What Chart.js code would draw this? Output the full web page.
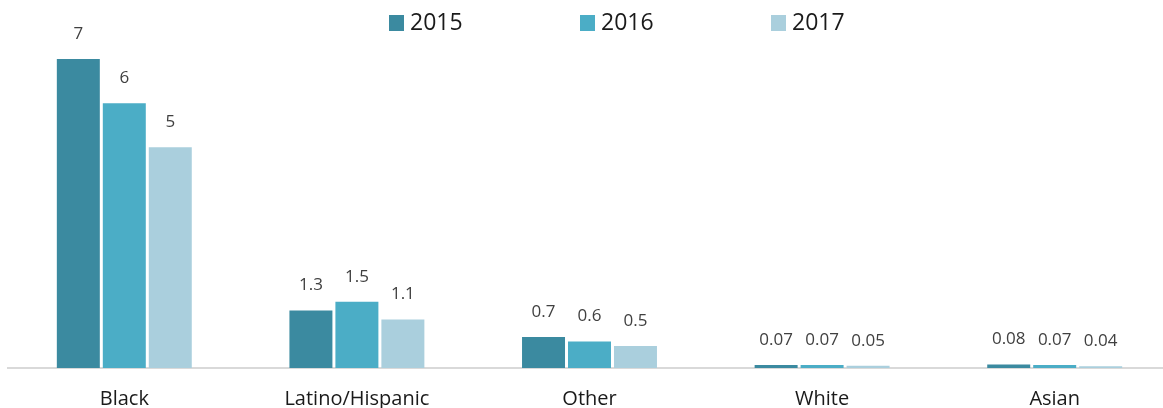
<!DOCTYPE html>
<html>
<head>
<meta charset="utf-8">
<script src="https://cdn.jsdelivr.net/npm/chart.js@4"></script>
<style>
    html, body { margin: 0; padding: 0; background: #fff; overflow: hidden; }
    /* plot runs a few px past the right edge and the axis box leaves spare room below, so the canvas is a bit bigger than the window */
    #wrap { width: 1171px; height: 430px; }
</style>
</head>
<body>
<div id="wrap"><canvas id="chart"></canvas></div>
<script>
const CATEGORIES = ['Black', 'Latino/Hispanic', 'Other', 'White', 'Asian'];
const YEARS = ['2015', '2016', '2017'];
const VALUES_2015 = [7, 1.3, 0.7, 0.07, 0.08];
const VALUES_2016 = [6, 1.5, 0.6, 0.07, 0.07];
const VALUES_2017 = [5, 1.1, 0.5, 0.05, 0.04];

const COLORS = ['#3b8aa0', '#4badc6', '#aacfdd'];
const FONT = '"Open Sans", "DejaVu Sans", sans-serif';

// value labels above every bar
const valueLabels = {
    id: 'valueLabels',
    afterDatasetsDraw(chart) {
        const { ctx } = chart;
        ctx.save();
        ctx.font = '17px ' + FONT;
        ctx.fillStyle = '#404040';
        ctx.textAlign = 'center';
        ctx.textBaseline = 'middle';
        chart.data.datasets.forEach((ds, i) => {
            chart.getDatasetMeta(i).data.forEach((bar, j) => {
                ctx.fillText(String(ds.data[j]), bar.x, bar.y - 25);
            });
        });
        ctx.restore();
    },
};

// legend drawn by hand: the reference sits a bit right of centre with wide gaps
const topLegend = {
    id: 'topLegend',
    afterDraw(chart) {
        const { ctx } = chart;
        const step = 191;
        let x = 389;
        ctx.save();
        ctx.font = '23px ' + FONT;
        ctx.textBaseline = 'middle';
        chart.data.datasets.forEach(ds => {
            ctx.fillStyle = ds.backgroundColor;
            ctx.fillRect(x, 15, 15, 16);
            ctx.fillStyle = '#1a1a1a';
            ctx.fillText(ds.label, x + 21, 23);
            x += step;
        });
        ctx.restore();
    },
};

new Chart(document.getElementById('chart'), {
    type: 'bar',
    data: {
        labels: CATEGORIES,
        datasets: [VALUES_2015, VALUES_2016, VALUES_2017].map((vals, i) => ({
            label: YEARS[i],
            data: vals,
            backgroundColor: COLORS[i],
            categoryPercentage: 0.593,
            barPercentage: 0.935,
        })),
    },
    options: {
        responsive: true,
        maintainAspectRatio: false,
        animation: false,
        layout: { padding: { top: 59, left: 8, right: 0, bottom: 0 } },
        plugins: {
            legend: { display: false },
            tooltip: { enabled: false },
        },
        scales: {
            x: {
                grid: { display: false, drawTicks: false },
                border: { display: true, color: '#d9d9d9', width: 2 },
                ticks: { color: '#1a1a1a', font: { family: FONT, size: 20 }, padding: 19 },
            },
            y: {
                display: false,
                min: 0,
                max: 7,
            },
        },
    },
    plugins: [valueLabels, topLegend],
});
</script>
</body>
</html>
